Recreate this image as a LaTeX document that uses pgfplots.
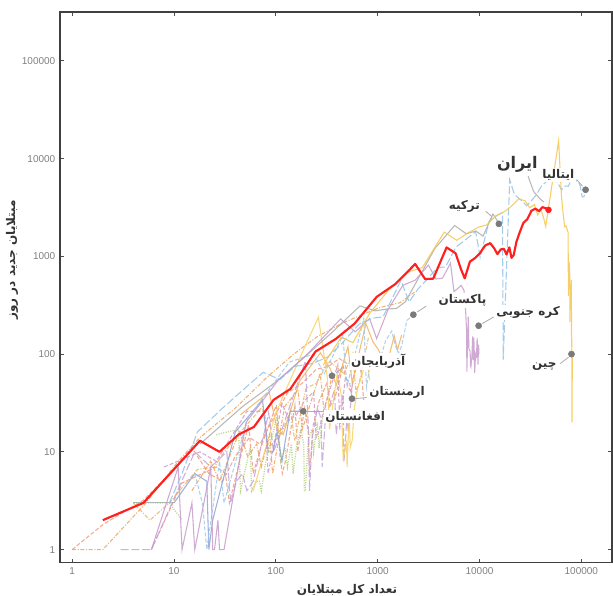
\documentclass[border=0pt]{standalone}
\usepackage{fontspec}
\setmainfont{Liberation Sans}
\newfontfamily\fa[Script=Arabic]{DejaVu Sans}
\TeXXeTstate=1
\usepackage{pgfplots}
\pgfplotsset{compat=1.18}
\usetikzlibrary{calc}

\definecolor{iranred}{HTML}{FF1F1F}
\definecolor{cyel}{HTML}{F6C64A}
\definecolor{cyel2}{HTML}{F8D264}
\definecolor{clb}{HTML}{93C2E6}
\definecolor{clb2}{HTML}{A2C9EA}
\definecolor{cstl}{HTML}{8CA4D6}
\definecolor{clil}{HTML}{C79BCB}
\definecolor{clil2}{HTML}{C4A3DA}
\definecolor{cpink}{HTML}{D49AC8}
\definecolor{cgry}{HTML}{ABABAB}
\definecolor{cgrg}{HTML}{9DB3A4}
\definecolor{cora}{HTML}{F0A35C}
\definecolor{cora2}{HTML}{F3B25E}
\definecolor{csal}{HTML}{F09A7C}
\definecolor{cpch}{HTML}{F29B80}
\definecolor{cgold}{HTML}{E9B66A}
\definecolor{cgrn}{HTML}{B3D07A}
\definecolor{dotgray}{HTML}{7A7A7A}
\definecolor{lbltext}{HTML}{333333}

\pgfplotsset{
  ln/.style={line width=0.8pt, opacity=0.85},
  dsh/.style={dash pattern=on 3pt off 1.5pt},
  ldsh/.style={dash pattern=on 6pt off 2pt},
  dtt/.style={dash pattern=on 0.8pt off 1pt},
  dshdot/.style={dash pattern=on 3pt off 1.2pt on 0.8pt off 1.2pt},
  lead/.style={draw=cgry, line width=0.6pt},
}
\tikzset{lbl/.style={font=\fontsize{9}{10}\selectfont, text=lbltext, fill=white, inner sep=1pt}}

\begin{document}
\begin{tikzpicture}
\begin{axis}[
  name=ax, scale only axis, width=414pt, height=413pt,
  xmode=log, ymode=log,
  xmin=0.76, xmax=200000, ymin=0.735, ymax=316000,
  xtick={1,10,100,1000,10000,100000},
  xticklabels={1,10,100,1000,10000,100000},
  ytick={1,10,100,1000,10000,100000},
  yticklabels={1,10,100,1000,10000,100000},
  minor tick style={draw=none},
  tick align=inside, major tick length=3pt,
  tick style={draw=black!70, line width=0.6pt},
  axis line style={draw=black!75, line width=1pt},
  tick label style={font=\fontsize{7.5}{9}\selectfont, text=black!50},
  no markers,
  xlabel={\fa\bfseries\beginR تعداد کل مبتلایان\endR},
  ylabel={\fa\bfseries\beginR مبتلایان جدید در روز\endR},
  xlabel style={at={(axis description cs:0.52,-0.05)}, anchor=center, font=\fontsize{9}{10}\selectfont, text=lbltext},
  ylabel style={at={(axis description cs:-0.087,0.55)}, anchor=center, font=\fontsize{9}{10}\selectfont, text=lbltext},
]

% orange dash-dot, smooth
\addplot[ln, cora, dshdot] coordinates {(1,1)(2,1)(5,2.8)(11,8)(18,14)(40,28)(82,58)(150,100)(253,150)(460,210)(1050,300)(1650,335)(2300,430)};
% peach dashed
\addplot[ln, cpch, dsh] coordinates {(1,1)(2,1.8)(5,3.2)(8.6,5.6)(15,11)(22,6)(30,5)(40,9)(55,14)(70,12)(90,20)(130,40)(180,50)(250,70)(330,75)(420,90)(500,80)};
% Iraq
\addplot[ln, csal, dsh] coordinates {(6,1)(12,4.8)(19,6)(26,7)(32,6)(35,3)(54,19)(60,6)(71,11)(101,30)(110,9)(116,6)(124,8)(154,30)(164,10)(192,28)(208,16)(214,6)(233,19)(266,33)(316,50)(346,30)(382,36)(458,76)(506,48)(547,41)(630,83)(694,64)(728,34)};
% Kuwait
\addplot[ln, cgrn, dtt, line width=1pt] coordinates {(4,3)(9,3)(12,2)};
\addplot[ln, cgrn, dtt, line width=1pt] coordinates {(26,15)(43,17)(45,4)(56,11)(58,4)(64,5)(69,5)(72,4)(80,8)(104,24)(112,8)(123,11)(130,7)(142,12)(148,6)(159,11)(176,17)(188,12)(191,4)(195,4)(208,13)(225,17)(235,10)(255,20)(266,11)(289,23)(317,28)};
% Bahrain
\addplot[ln, clil2, ldsh] coordinates {(3,1)(6,1)(16,10)(23,7)(33,10)(36,3)(41,5)(47,6)(52,4)(60,5)(85,25)(95,10)(110,15)(195,85)(210,15)(214,4)(228,14)(256,28)(278,22)(285,7)(305,20)(334,29)(377,43)(392,15)(419,27)(458,39)(466,8)(476,10)(499,23)(515,16)(567,52)};
% UAE
\addplot[ln, cgold, dshdot] coordinates {(4,3)(5.8,2)(9,3)(17,6.6)(25,7)(29,9)(45,16)(74,29)(85,11)(98,13)(113,15)(140,27)(153,13)(198,45)(248,50)(333,85)(405,72)(468,63)(570,102)(611,41)(664,53)(814,150)};
% Saudi Arabia
\addplot[ln, cora2] coordinates {(45,24)(86,41)(103,17)(118,15)(171,53)(274,103)(344,70)(392,48)(511,119)(562,51)(767,205)(900,133)(1012,112)(1104,92)(1203,99)(1299,96)(1453,154)(1563,110)(1720,157)};
% Qatar
\addplot[ln, cyel2] coordinates {(60,4)(100,25)(200,130)(262,238)(320,58)(337,17)(401,64)(439,38)(452,13)(460,8)(470,10)(481,11)(494,13)(501,7)(526,25)(537,11)(549,12)(562,13)(590,28)(634,44)(693,59)(781,88)(835,54)};
% Azerbaijan
\addplot[ln, cora, dshdot] coordinates {(15,4)(23,8)(28,5)(44,16)(53,9)(65,12)(72,7)(87,15)(93,6)(122,29)(165,43)(182,17)(209,27)(273,64)(298,25)(356,60)};
% Armenia
\addplot[ln, cpink, dsh] coordinates {(8,7)(18,10)(26,8)(52,26)(78,26)(84,6)(115,31)(136,21)(160,24)(194,34)(235,41)(249,14)(265,16)(290,25)(329,39)(407,78)(424,17)(482,58)(532,50)(560,35)};
% Afghanistan
\addplot[ln, cgrg] coordinates {(4,3)(7,3)(10,3)};
\addplot[ln, cstl] coordinates {(10,3)(16,6)(21,5)(22,1)(24,2)(40,16)(74,34)(84,10)(94,10)(103,16)(115,8)(138,26)(186,26)};
% Pakistan
\addplot[ln, clb2, dsh] coordinates {(16,6)(19,3)(21,1)(28,8)(31,3)(53,22)(136,83)(236,100)(299,63)(454,155)(501,47)(730,229)(776,46)(875,99)(972,97)(1063,91)(1201,138)(1373,172)(1495,122)(1597,102)(1717,120)(1938,221)(2240,253)};
% Turkey
\addplot[ln, cgry] coordinates {(18,12)(47,29)(98,51)(191,93)(359,168)(670,311)(947,277)(1236,289)(1529,293)(1872,343)(2433,561)(3629,1196)(5698,2069)(7402,1704)(9217,1815)(10827,1610)(13531,2704)(15679,2148)};
\addplot[ln, cgry] coordinates {(30000,6600)(34000,4600)(40000,3800)(43000,3600)};
% South Korea
\addplot[ln, clil] coordinates {(6,1)(11,7)(12,1)(15,3)(16,1)(23,7)(24,1)(25,1)(27,2)(28,1)(29,1)(30,1)(31,1)(51,20)(104,53)(204,100)(433,229)(602,169)(833,231)(977,144)(1261,284)(1766,505)(2337,571)(3150,813)(3736,586)(4335,599)(5186,851)(5621,435)(6088,467)(6593,505)(7041,448)(7314,273)(7478,164)(7513,66)(7755,242)(7869,114)(7979,110)(8086,107)(8162,76)(8236,74)(8320,84)(8413,93)(8565,152)(8652,87)(8799,147)(8897,98)(8961,64)(9037,76)(9137,100)(9241,104)(9332,91)(9478,146)(9583,105)(9661,78)(9786,125)(9887,101)};
% Italy
\addplot[ln, clb, ldsh] coordinates {(9,3)(12,6)(17,16)(30,28)(50,45)(75,65)(110,55)(155,75)(229,80)(322,93)(453,131)(655,202)(888,233)(1128,240)(1694,566)(2036,342)(2502,466)(3089,587)(3858,769)(4636,778)(5883,1247)(7375,1492)(9172,1797)(10149,977)(12462,2313)(15113,2651)(16800,2800)(17100,88)(19800,6100)(22000,4300)(26000,3700)(29000,3300)(31500,3600)(35700,4200)(41000,5300)(47000,6000)(53600,6500)(59100,5560)(63900,4790)(69200,5250)(74400,5210)(80600,6200)(86500,5900)(92500,5970)(97700,5220)(101700,4050)(105800,4050)(110574,4782)};
% China
\addplot[ln, cyel] coordinates {(291,77)(440,149)(571,131)(830,259)(1287,457)(1975,688)(2744,769)(4515,1771)(5974,1459)(7711,1737)(9692,1981)(11791,2099)(14380,2589)(17205,2825)(20438,3233)(24324,3886)(28018,3694)(31161,3143)(34546,3385)(37198,2652)(40171,2973)(42638,2467)(44653,2015)(59804,15151)(63851,4047)(66492,2641)(68500,2008)(70548,2048)(72436,1888)(74185,1749)(74576,394)(75465,889)(76288,823)(76936,648)(77150,214)(77658,508)(78064,406)(78497,433)(78824,327)(79251,427)(79824,573)(80026,202)(80151,125)(80270,119)(80409,139)(80552,143)(80651,99)(80695,44)(80735,40)(80754,20)(80778,24)(80813,20)(80844,21)(80894,20)(80928,34)(80967,39)(81008,41)(81054,46)(81093,39)(81171,78)(81218,47)(81285,67)(81340,55)(81394,54)(81470,62)(81554,85)(81600,100)};

% Iran
\addplot[iranred, line width=1.6pt, line join=round] coordinates {(2,2)(5,3)(18,13)(28,10)(43,15)(61,18)(95,34)(139,44)(245,106)(388,143)(593,205)(978,385)(1501,523)(2336,835)(2922,586)(3513,591)(4747,1234)(5823,1076)(6566,743)(7161,595)(8042,881)(9000,958)(10075,1075)(11364,1289)(12729,1365)(13938,1209)(14991,1053)(16169,1178)(17361,1192)(18407,1046)(19644,1237)(20610,966)(21638,1028)(23049,1411)(24811,1762)(27017,2206)(29406,2389)(32332,2926)(35408,3076)(38309,2901)(41495,3186)(44605,3110)(47593,2988)};

% leader lines
\addplot[lead] coordinates {(13200,2550)(11500,2900)};
\addplot[lead] coordinates {(2450,270)(3000,310)};
\addplot[lead] coordinates {(10600,205)(13800,240)};
\addplot[lead] coordinates {(75000,93)(62000,80)};
\addplot[lead] coordinates {(103000,5200)(90000,6100)};
\addplot[lead] coordinates {(390,64)(460,74)};
\addplot[lead] coordinates {(610,35)(780,36)};
\addplot[lead] coordinates {(205,26)(290,26)};

% end dots
\addplot[only marks, mark=*, mark size=2.3pt, dotgray, mark options={draw=dotgray, fill=dotgray}] coordinates {(110000,4800)(15500,2150)(2240,253)(9800,195)(80000,100)(356,60)(560,35)(186,26)};
\addplot[only marks, mark=*, mark size=2.2pt, iranred] coordinates {(47593,2988)};

% labels
\node[lbl, font=\fontsize{12}{13}\selectfont] at (axis cs:23500,8650) {\fa\bfseries\beginR ایران\endR};
\node[lbl] at (axis cs:59400,6830) {\fa\bfseries\beginR ایتالیا\endR};
\node[lbl] at (axis cs:7100,3210) {\fa\bfseries\beginR ترکیه\endR};
\node[lbl] at (axis cs:6800,352) {\fa\bfseries\beginR پاکستان\endR};
\node[lbl] at (axis cs:30000,265) {\fa\bfseries\beginR کره جنوبی\endR};
\node[lbl] at (axis cs:43300,74) {\fa\bfseries\beginR چین\endR};
\node[lbl] at (axis cs:1014,84) {\fa\bfseries\beginR آذربایجان\endR};
\node[lbl] at (axis cs:1550,41) {\fa\bfseries\beginR ارمنستان\endR};
\node[lbl] at (axis cs:603,23) {\fa\bfseries\beginR افغانستان\endR};
\end{axis}
\pgfresetboundingbox
\path[use as bounding box] ($(ax.south west)+(-45pt,-24.75pt)$) rectangle ($(ax.north east)+(0.75pt,9pt)$);
\end{tikzpicture}
\end{document}
